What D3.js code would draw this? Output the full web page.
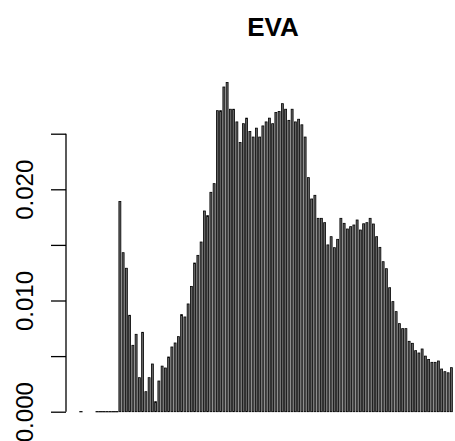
<!DOCTYPE html>
<html lang="en">
    <head>
        <meta charset="utf-8" />
        <title>EVA histogram</title>
        <script src="https://cdn.jsdelivr.net/npm/d3@7"></script>
        <style>
            body { margin: 0; background: #fff; }
            text { font-family: "Liberation Sans", Arial, sans-serif; }
        </style>
    </head>
    <body>
        <svg width="455" height="441"></svg>

        <script>
            // density of each bin (in units of 0.001); null = no bin drawn, 0 = empty bin
            var leadingBins = [0, null, null, null, null, 0, 0, 0, 0, 0, 0, 0];
            var density = [
                18.9, 14.3, 12.9, 8.67, 5.97, 6.96, 3.06, 7.14, 1.8, 3.06,
                4.29, 0.9, 2.76, 4.1, 3.93, 4.92, 5.82, 6.18, 6.75, 8.73,
                8.52, 9.69, 11.27, 13.37, 14.06, 15.26, 18.05, 17.63, 19.73, 20.51,
                27.07, 27.07, 29.2, 29.6, 27.2, 27.2, 26.06, 24.2, 25.9, 26.4,
                25.2, 24.7, 25.5, 24.7, 25.7, 26.06, 26.4, 25.9, 26.9, 27.0,
                27.7, 27.2, 26.2, 27.2, 26.06, 26.3, 25.8, 24.7, 21.05, 19.13,
                19.46, 17.39, 17.39, 17.0, 15.0, 15.74, 14.75, 15.5, 17.39, 16.94,
                16.43, 16.64, 16.79, 17.24, 16.34, 16.9, 17.0, 17.39, 16.88, 15.74,
                14.78, 13.49, 12.86, 11.15, 9.9, 9.0, 7.92, 7.47, 7.47, 6.33,
                6.15, 5.49, 5.28, 5.64, 5.0, 4.7, 4.44, 4.44, 4.56, 3.84,
                3.6, 3.5, 3.96
            ];
            var yTicks = [0, 0.005, 0.01, 0.015, 0.02, 0.025];
            var yLabels = ['0.000', '', '0.010', '', '0.020', ''];

            var bins = leadingBins.concat(density).map(function(v, i) {
                return { i: i, v: v === null ? null : v / 1000 };
            });

            var svg = d3.select('svg');
            var binW = 3.25;
            var x0 = 79.3;

            var x = d3.scaleLinear()
                      .domain([0, bins.length])
                      .range([x0, x0 + bins.length * binW]);
            var y = d3.scaleLinear()
                      .domain([0, 0.025])
                      .range([411.7, 133.7]);

            // title
            svg.append('text')
               .attr('x', 273)
               .attr('y', 36)
               .attr('text-anchor', 'middle')
               .style('font-weight', 'bold')
               .style('font-size', '26px')
               .text('EVA');

            // bars with a height
            svg.append('g')
               .selectAll('rect')
               .data(bins.filter(function(d) { return d.v; }))
               .enter()
               .append('rect')
               .attr('x', function(d) { return x(d.i) + 0.6; })
               .attr('width', binW - 1.3)
               .attr('y', function(d) { return y(d.v); })
               .attr('height', function(d) { return y(0) - y(d.v); })
               .attr('fill', '#666')
               .attr('stroke', '#000')
               .attr('stroke-width', 0.8);

            // empty bins are drawn as flat lines
            svg.append('g')
               .selectAll('line')
               .data(bins.filter(function(d) { return d.v === 0; }))
               .enter()
               .append('line')
               .attr('x1', function(d) { return x(d.i); })
               .attr('x2', function(d) { return x(d.i + 1); })
               .attr('y1', y(0))
               .attr('y2', y(0))
               .attr('stroke', '#000')
               .attr('stroke-width', 1.2);

            // y axis
            var axis = d3.axisLeft(y)
                         .tickValues(yTicks)
                         .tickSize(15)
                         .tickFormat(function(d, i) { return yLabels[i]; });

            var ga = svg.append('g')
                        .attr('transform', 'translate(66,0)')
                        .call(axis);
            ga.select('.domain')
              .attr('d', 'M0,' + y(0) + 'V' + y(0.025))
              .attr('stroke-width', 1.3);
            ga.selectAll('.tick line').attr('stroke-width', 1.3);
            ga.selectAll('.tick text')
              .attr('transform', 'rotate(-90)')
              .attr('x', 0)
              .attr('y', -33)
              .attr('dy', 0)
              .attr('text-anchor', 'middle')
              .style('font-size', '24px')
              .attr('fill', '#000');
        </script>
    </body>
</html>
